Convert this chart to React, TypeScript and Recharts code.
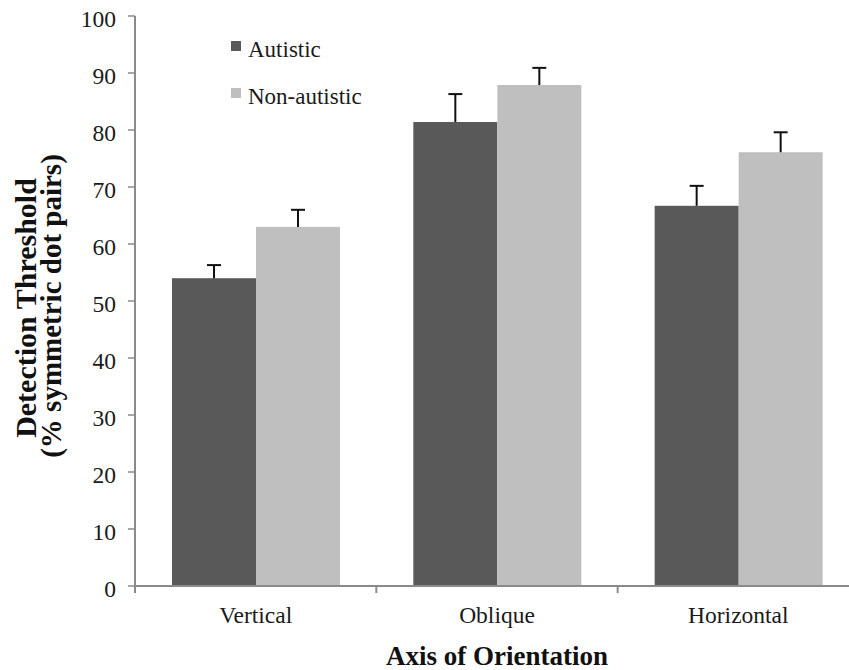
import React from 'react';
import { BarChart, Bar, XAxis, YAxis } from 'recharts';

const categories = ['Vertical', 'Oblique', 'Horizontal'];
const autistic = [54.0, 81.4, 66.7];
const autisticErr = [2.3, 4.9, 3.5];
const nonAutistic = [63.0, 87.9, 76.1];
const nonAutisticErr = [3.0, 3.0, 3.5];
const yTicks = [0, 10, 20, 30, 40, 50, 60, 70, 80, 90, 100];
const seriesNames = ['Autistic', 'Non-autistic'];

const data = categories.map((c, i) => ({
  name: c,
  autistic: autistic[i],
  autisticErr: autisticErr[i],
  nonAutistic: nonAutistic[i],
  nonAutisticErr: nonAutisticErr[i],
}));

const FONT = 'Liberation Serif, Times New Roman, serif';
const DARK = '#595959';
const LIGHT = '#bfbfbf';
const AXIS = '#8a8a8a';
const TEXT = '#1a1a1a';

const makeShape = (valKey: string, errKey: string, fill: string) => (props: any) => {
  const { x, y, width, height, payload } = props;
  const v = payload[valKey];
  const e = payload[errKey];
  const pxPerUnit = v ? height / v : 0;
  const top = y - e * pxPerUnit;
  const cx = x + width / 2;
  return (
    <g>
      <rect x={x} y={y} width={width} height={height} fill={fill} />
      <line x1={cx} y1={y} x2={cx} y2={top} stroke="#111" strokeWidth={2} />
      <line x1={cx - 7} y1={top} x2={cx + 7} y2={top} stroke="#111" strokeWidth={2} />
    </g>
  );
};

const XTick = (props: any) => {
  const { x, y, payload, index, visibleTicksCount } = props;
  const half = payload && payload.offset ? payload.offset : 120.5;
  const last = index === (visibleTicksCount || 3) - 1;
  return (
    <g>
      <line x1={x - half} y1={y - 8} x2={x - half} y2={y - 1} stroke={AXIS} strokeWidth={2} />
      {last && <line x1={x + half} y1={y - 8} x2={x + half} y2={y - 1} stroke={AXIS} strokeWidth={2} />}
      <text x={x} y={y + 29} textAnchor="middle" fontFamily={FONT} fontSize={23.5} fill={TEXT}>
        {payload.value}
      </text>
    </g>
  );
};

const YTick = (props: any) => {
  const { x, y, payload } = props;
  return (
    <text x={x} y={y + 11} textAnchor="end" fontFamily={FONT} fontSize={23.5} fill={TEXT}>
      {payload.value}
    </text>
  );
};

const LegendSvg = () => (
  <g>
    <rect x={231} y={41} width={10} height={10} fill={DARK} />
    <text x={248} y={57} fontFamily={FONT} fontSize={23} fill={TEXT}>{seriesNames[0]}</text>
    <rect x={231} y={88} width={10} height={10} fill={LIGHT} />
    <text x={248} y={104} fontFamily={FONT} fontSize={23} fill={TEXT}>{seriesNames[1]}</text>
  </g>
);

const YLabel = () => (
  <g>
    <text
      transform="translate(36, 308) rotate(-90)"
      textAnchor="middle"
      fontFamily={FONT}
      fontWeight="bold"
      fontSize={30}
      fill="#111"
    >
      Detection Threshold
    </text>
    <text
      transform="translate(61, 306) rotate(-90)"
      textAnchor="middle"
      fontFamily={FONT}
      fontWeight="bold"
      fontSize={29}
      fill="#111"
    >
      (% symmetric dot pairs)
    </text>
  </g>
);

export default function App() {
  return (
    <div style={{ position: 'absolute', left: 0, top: 0, width: 849, height: 670, overflow: 'hidden', background: '#fff' }}>
      <BarChart
        width={880}
        height={670}
        data={data}
        margin={{ top: 16, right: 21, bottom: 44, left: 75 }}
        barGap={0}
        barSize={84}
      >
        <XAxis
          dataKey="name"
          axisLine={{ stroke: AXIS, strokeWidth: 2 }}
          tickLine={false}
          tick={<XTick />}
          height={40}
          interval={0}
        />
        <YAxis
          domain={[0, 100]}
          ticks={yTicks}
          interval={0}
          width={60}
          axisLine={{ stroke: AXIS, strokeWidth: 2 }}
          tickLine={{ stroke: AXIS, strokeWidth: 1.5 }}
          tickSize={7}
          tickMargin={12}
          tick={<YTick />}
        />
        <Bar dataKey="autistic" name={seriesNames[0]} fill={DARK} isAnimationActive={false} shape={makeShape('autistic', 'autisticErr', DARK)} />
        <Bar dataKey="nonAutistic" name={seriesNames[1]} fill={LIGHT} isAnimationActive={false} shape={makeShape('nonAutistic', 'nonAutisticErr', LIGHT)} />
        <LegendSvg />
        <YLabel />
        <text x={497} y={665} textAnchor="middle" fontFamily={FONT} fontWeight="bold" fontSize={27} fill="#111">
          Axis of Orientation
        </text>
      </BarChart>
    </div>
  );
}
